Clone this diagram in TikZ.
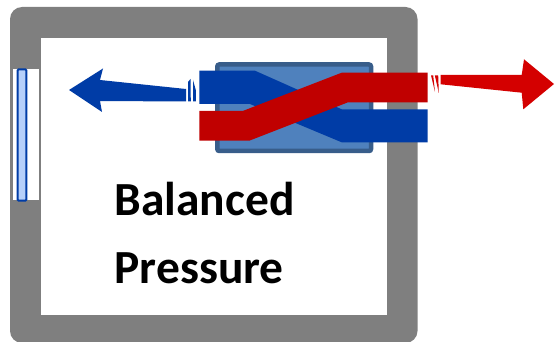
\documentclass[tikz,border=0pt]{standalone}
\usepackage{fontspec}
\setmainfont{Carlito}
\usepackage{tikz}
\usetikzlibrary{positioning}
\definecolor{wallgray}{RGB}{127,127,127}
\definecolor{coreblue}{RGB}{79,129,189}
\definecolor{coreedge}{RGB}{56,93,138}
\definecolor{ductblue}{RGB}{0,60,166}
\definecolor{ductred}{RGB}{192,0,0}
\definecolor{flowred}{RGB}{212,0,0}
\definecolor{paneblue}{RGB}{182,208,250}
\begin{document}
\begin{tikzpicture}[
  x=1pt, y=-1pt,
  wall/.style={fill=wallgray, rounded corners=12pt},
  pane/.style={draw=ductblue, line width=2pt, fill=paneblue, rounded corners=1pt},
  core/.style={draw=coreedge, line width=4.5pt, fill=coreblue, rounded corners=2pt},
  duct/.style={fill=#1},
  label/.style={font=\bfseries\fontsize{47.5}{47.5}\selectfont, anchor=base west},
]
  \useasboundingbox (0,0) rectangle (557,342);
  % house
  \fill[wall] (10,7) rectangle (417.5,343);
  \fill[white] (41,38) rectangle (387,314.5);
  % window
  \fill[white] (13,69) rectangle (39,200);
  \draw[pane] (17.7,69.3) rectangle (26.3,200.7);
  % heat exchanger
  \draw[core] (217.3,64.5) rectangle (371,151);
  \fill[duct=ductblue] (199.3,70.7) -- (255,70.7) -- (341.7,109.3) -- (427.7,109.3)
    -- (427.7,142.3) -- (341.7,142.3) -- (250,104) -- (199.3,104) -- cycle;
  \fill[duct=ductred] (199.3,111) -- (242.7,111) -- (341.7,72.7) -- (427.7,72.7)
    -- (427.7,102.3) -- (348,102.3) -- (249.3,140.7) -- (199.3,140.7) -- cycle;
  % supply arrow
  \fill[duct=ductblue] (69,90) -- (103,68.5) -- (100,80) -- (186,89) -- (186,101.5)
    -- (100,101) -- (102,112) -- cycle;
  \fill[duct=ductblue] (188,82) -- (190.5,79) -- (190.8,101.5) -- (188,101.5) -- cycle;
  \fill[duct=ductblue] (193,80) -- (195.8,90) -- (196,101.5) -- (193,101.5) -- cycle;
  % exhaust arrow
  \fill[duct=flowred] (440.7,75) -- (521.7,75) -- (524,59.3) -- (554,84) -- (523.3,109.3)
    -- (521.7,92.7) -- (440.7,84.3) -- cycle;
  \fill[duct=flowred] (431,75.3) -- (433.2,75.3) -- (435,92) -- cycle;
  \fill[duct=flowred] (434.8,75.3) -- (438.2,75.3) -- (438.8,93) -- cycle;
  % labels
  \node[label, inner sep=0pt] (balanced) at (114.5,215.5) {Balanced};
  \node[label, inner sep=0pt] (pressure) at (114.5,283) {Pressure};
\end{tikzpicture}
\end{document}
